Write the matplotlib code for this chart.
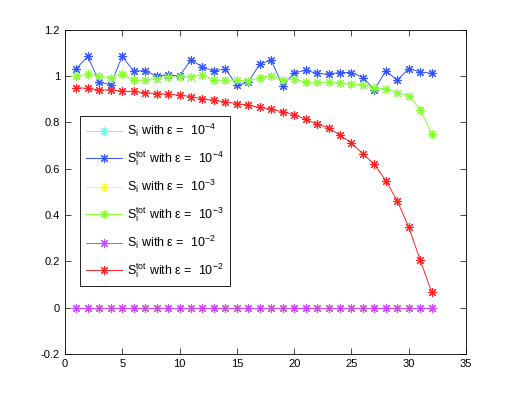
import matplotlib
matplotlib.use("Agg")
import matplotlib.pyplot as plt
import numpy as np

plt.rcParams['font.family'] = ['Liberation Sans', 'DejaVu Sans']
plt.rcParams['mathtext.fontset'] = 'custom'
plt.rcParams['mathtext.rm'] = 'Liberation Sans'
plt.rcParams['mathtext.it'] = 'Liberation Sans:italic'

x = np.arange(1, 33)

si_1e4 = [0.0] * 32
stot_1e4 = [1.033, 1.086, 0.974, 0.964, 1.086, 1.022, 1.024, 1.0, 1.007, 1.0,
            1.072, 1.039, 1.022, 1.032, 0.96, 0.974, 1.053, 1.069, 0.958, 1.014,
            1.026, 1.012, 1.009, 1.016, 1.016, 0.994, 0.942, 1.023, 0.983, 1.033,
            1.019, 1.012]
si_1e3 = [0.0] * 32
stot_1e3 = [1.0, 1.009, 1.0, 0.994, 1.009, 0.983, 0.983, 0.99, 0.997, 0.997,
            0.997, 1.007, 0.983, 0.983, 0.983, 0.98, 0.994, 1.003, 0.983, 0.988,
            0.974, 0.974, 0.974, 0.971, 0.965, 0.963, 0.951, 0.945, 0.928, 0.916,
            0.856, 0.752]
si_1e2 = [0.0] * 32
stot_1e2 = [0.951, 0.947, 0.94, 0.941, 0.935, 0.934, 0.928, 0.925, 0.922, 0.918,
            0.912, 0.902, 0.896, 0.889, 0.882, 0.875, 0.865, 0.857, 0.846, 0.834,
            0.814, 0.793, 0.777, 0.745, 0.712, 0.664, 0.619, 0.549, 0.461, 0.348,
            0.205, 0.067]

series = [
    (si_1e4, '#66ffe0', r'S$_{\mathrm{i}}$ with ε =  10$^{-4}$'),
    (stot_1e4, '#3355ff', r'S$_{\mathrm{i}}^{\mathrm{tot}}$ with ε =  10$^{-4}$'),
    (si_1e3, '#ffff22', r'S$_{\mathrm{i}}$ with ε =  10$^{-3}$'),
    (stot_1e3, '#88ff33', r'S$_{\mathrm{i}}^{\mathrm{tot}}$ with ε =  10$^{-3}$'),
    (si_1e2, '#cc44ff', r'S$_{\mathrm{i}}$ with ε =  10$^{-2}$'),
    (stot_1e2, '#ff2222', r'S$_{\mathrm{i}}^{\mathrm{tot}}$ with ε =  10$^{-2}$'),
]

fig = plt.figure(figsize=(5.15, 3.99), dpi=100)
ax = fig.add_axes([0.126, 0.113, 0.779, 0.812])
for vals, c, lab in series:
    ax.plot(x, vals, color=c, marker=(8, 2, 0), markersize=6.5, markeredgewidth=0.8,
            linewidth=0.7, label=lab)

ax.set_xlim(0, 35)
ax.set_ylim(-0.2, 1.2)
ax.set_xticks(np.arange(0, 36, 5))
ax.set_yticks(np.arange(-0.2, 1.21, 0.2))
ax.set_yticklabels(['-0.2', '0', '0.2', '0.4', '0.6', '0.8', '1', '1.2'])
ax.tick_params(direction='in', top=True, right=True, labelsize=8, length=4, width=0.5)
for s in ax.spines.values():
    s.set_linewidth(0.6)

leg = ax.legend(loc='upper left', bbox_to_anchor=(0.037, 0.735), fontsize=9,
                fancybox=False, framealpha=1, edgecolor='black',
                handlelength=2.9, handletextpad=0.4, labelspacing=0.8,
                borderpad=0.5, borderaxespad=0)
leg.get_frame().set_linewidth(0.6)

fig.savefig('out.png', dpi=100)
